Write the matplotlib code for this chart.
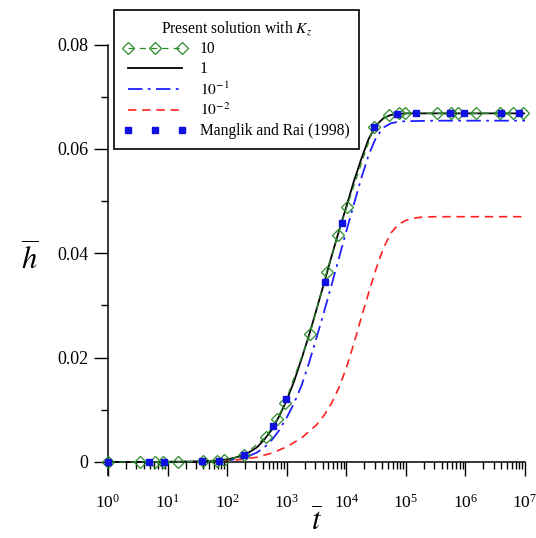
import numpy as np
import matplotlib
matplotlib.use("Agg")
import matplotlib.pyplot as plt
from matplotlib.ticker import LogLocator, MultipleLocator, FuncFormatter

plt.rcParams['font.family'] = ['Liberation Serif', 'DejaVu Serif']
plt.rcParams['mathtext.fontset'] = 'stix'

# exponents of t (t = 10**x) and dimensionless h for each curve
x_kz1 = [0, 1, 1.5, 1.75, 2.0, 2.125, 2.25, 2.375, 2.5, 2.625, 2.75, 2.875, 3.0, 3.125,
         3.25, 3.375, 3.5, 3.625, 3.75, 3.875, 4.0, 4.125, 4.25, 4.375, 4.5, 4.625,
         4.75, 4.875, 5.0, 5.5, 6, 7]
h_kz1 = [0, 0.00002, 0.0001, 0.0002, 0.0005, 0.0008, 0.0012, 0.0019, 0.0028, 0.0043,
         0.0062, 0.0088, 0.0118, 0.0155, 0.0198, 0.0243, 0.0292, 0.0342, 0.0393, 0.0442,
         0.0489, 0.0537, 0.0580, 0.0619, 0.0645, 0.0659, 0.0665, 0.0667, 0.0668, 0.0668,
         0.0668, 0.0668]

x_kz01 = [0, 1.5, 2.0, 2.125, 2.25, 2.375, 2.5, 2.625, 2.75, 2.875, 3.0, 3.125, 3.25,
          3.375, 3.5, 3.625, 3.75, 3.875, 4.0, 4.125, 4.25, 4.375, 4.5, 4.625, 4.75,
          4.875, 5.0, 5.5, 6, 7]
h_kz01 = [0, 0.00005, 0.0003, 0.0005, 0.0008, 0.0012, 0.0018, 0.0028, 0.0042, 0.0061,
          0.0085, 0.0113, 0.0147, 0.0190, 0.0238, 0.0287, 0.0338, 0.0390, 0.0442, 0.0493,
          0.0543, 0.0588, 0.0622, 0.0641, 0.0649, 0.0652, 0.0653, 0.0654, 0.0654, 0.0654]

x_kz001 = [0, 1.5, 2.0, 2.25, 2.5, 2.75, 3.0, 3.25, 3.5, 3.625, 3.75, 3.875, 4.0, 4.125,
           4.25, 4.375, 4.5, 4.625, 4.75, 4.875, 5.0, 5.125, 5.25, 5.5, 6, 7]
h_kz001 = [0, 0.00003, 0.0002, 0.0005, 0.0009, 0.0017, 0.0029, 0.0046, 0.0071, 0.0089,
           0.0112, 0.0142, 0.0180, 0.0226, 0.0276, 0.0324, 0.0370, 0.0410, 0.0439,
           0.0455, 0.0463, 0.0467, 0.0469, 0.0470, 0.0470, 0.0470]

x_kz10 = [0, 0.54, 0.79, 0.92, 1.17, 1.59, 1.83, 1.95, 2.28, 2.65, 2.84, 2.97, 3.39,
          3.67, 3.86, 4.01, 4.46, 4.71, 4.88, 4.98, 5.52, 5.75, 5.87, 6.17, 6.58, 6.80, 6.96]
h_kz10 = [0, 0, 0, 0, 0, 0.0001, 0.0002, 0.0003, 0.0013, 0.0048, 0.0082, 0.0113, 0.0245,
          0.0364, 0.0435, 0.0489, 0.0642, 0.0665, 0.0668, 0.0668, 0.0668, 0.0668, 0.0668,
          0.0668, 0.0668, 0.0668, 0.0668]

# Manglik and Rai (1998)
x_mr = [0, 0.69, 0.94, 1.57, 1.86, 2.28, 2.77, 2.99, 3.64, 3.93, 4.46, 4.85, 5.17, 5.74,
        5.97, 6.59, 6.90]
h_mr = [0, 0, 0, 0.0001, 0.0002, 0.0013, 0.0069, 0.0121, 0.0345, 0.0458, 0.0642, 0.0667,
        0.0668, 0.0668, 0.0668, 0.0668, 0.0668]

t = lambda x: 10.0 ** np.asarray(x)

fig = plt.figure(figsize=(5.36, 5.38), dpi=100)
ax = fig.add_axes([108 / 536, 1 - 475 / 538, 417 / 536, 430.5 / 538])

l10, = ax.plot(t(x_kz10), h_kz10, color='#2a8c2a', ls=(0, (5, 4)), lw=0.9,
               marker='D', ms=6, mfc='none', mec='#2a8c2a', mew=0.9, clip_on=False,
               zorder=4, label='10')
l1, = ax.plot(t(x_kz1), h_kz1, color='black', lw=1.3, zorder=3, label='1')
l01, = ax.plot(t(x_kz01), h_kz01, color='#2020ff', lw=1.3, ls=(0, (8, 3, 1.5, 3)),
               zorder=2, label='$10^{-1}$')
l001, = ax.plot(t(x_kz001), h_kz001, color='#ff2020', lw=1.2, ls=(0, (5, 3.5)),
                zorder=2, label='$10^{-2}$')
lmr, = ax.plot(t(x_mr), h_mr, ls='none', marker='s', ms=5, color='#1010e0',
               clip_on=False, zorder=5, label='Manglik and Rai (1998)')

ax.set_xscale('log')
ax.set_xlim(1, 1e7)
ax.set_ylim(-0.0025, 0.08)

for s in ['top', 'right']:
    ax.spines[s].set_visible(False)
ax.spines['bottom'].set_position(('data', 0))
for s in ['left', 'bottom']:
    ax.spines[s].set_linewidth(1.1)

ax.xaxis.set_major_locator(LogLocator(base=10, numticks=10))
ax.xaxis.set_minor_locator(LogLocator(base=10, subs=np.arange(2, 10), numticks=20))
ax.yaxis.set_major_locator(MultipleLocator(0.02))
ax.yaxis.set_minor_locator(MultipleLocator(0.01))
ax.yaxis.set_major_formatter(FuncFormatter(lambda v, p: '0' if abs(v) < 1e-9 else f'{v:.2f}'))

ax.tick_params(axis='x', which='major', direction='out', length=10, width=1.0,
               labelsize=12.5, pad=13)
ax.tick_params(axis='x', which='minor', direction='out', length=5, width=1.0)
ax.tick_params(axis='y', which='major', direction='out', length=10, width=1.0,
               labelsize=13, pad=4)
ax.tick_params(axis='y', which='minor', direction='out', length=5, width=1.0)

ax.set_xlabel(r'$\overline{t}$', fontsize=22, labelpad=-3)
ax.set_ylabel(r'$\overline{h}$', fontsize=22, rotation=0, labelpad=20, va='center')

leg = fig.legend(handles=[l10, l1, l01, l001, lmr],
                 title='Present solution with $K_z$',
                 loc='upper left', bbox_to_anchor=(114 / 536, 1 - 10 / 538),
                 bbox_transform=fig.transFigure, borderaxespad=0,
                 fontsize=11.2, title_fontsize=11.2, numpoints=3,
                 handlelength=4.1, handletextpad=0.8, labelspacing=0.26,
                 borderpad=0.6, fancybox=False, framealpha=1, edgecolor='black')
leg.get_frame().set_linewidth(1.2)

fig.savefig('out.png', dpi=100)
